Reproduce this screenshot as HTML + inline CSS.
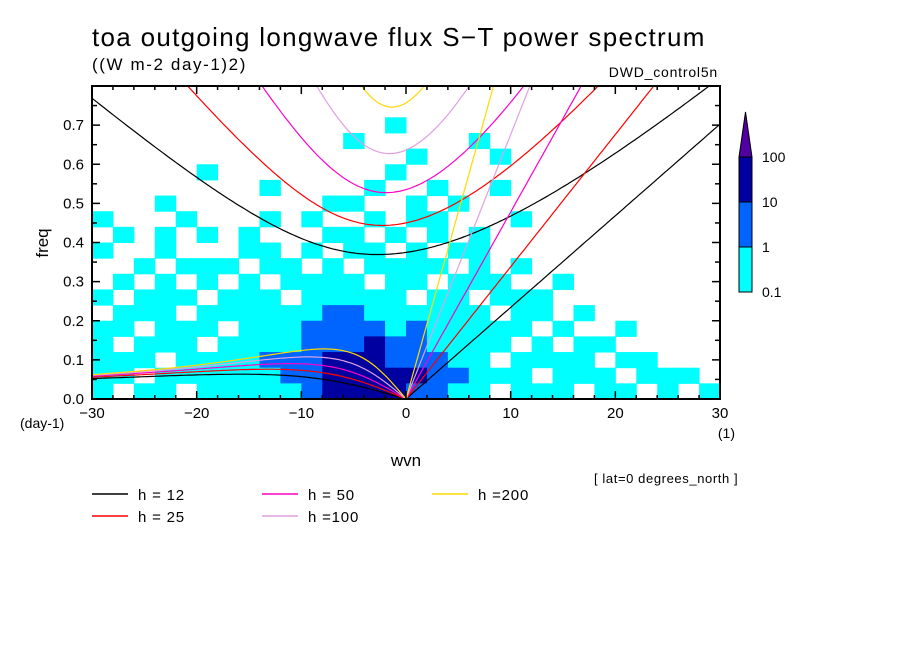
<!DOCTYPE html>
<html><head><meta charset="utf-8"><style>
html,body{margin:0;padding:0;background:#fff;}
svg{display:block;font-family:"Liberation Sans",sans-serif;}
</style></head><body>
<svg id="chart" width="904" height="654" viewBox="0 0 904 654" xmlns="http://www.w3.org/2000/svg">
<rect width="904" height="654" fill="#fff"/>
<text x="92" y="46" font-size="26" letter-spacing="1.3">toa outgoing longwave flux S−T power spectrum</text>
<text x="92" y="70" font-size="17" letter-spacing="1.6">((W m-2 day-1)2)</text>
<text x="718" y="77" font-size="14" text-anchor="end" letter-spacing="0.8">DWD_control5n</text>
<g id="cells"></g>
<g id="curves"></g>
<g id="axes"></g>
<text x="20" y="428" font-size="14">(day-1)</text>
<text x="735" y="438" font-size="14" text-anchor="end">(1)</text>
<text x="406" y="466" font-size="17" text-anchor="middle">wvn</text>
<text x="48" y="243" font-size="17" text-anchor="middle" transform="rotate(-90 48 243)">freq</text>
<text x="594" y="483" font-size="13" letter-spacing="0.6">[ lat=0 degrees_north ]</text>
<g id="colorbar"></g>
<g id="legend"></g>
</svg>
<script>
// ---- data ----
const wvnEdges = [-30, 30];
const freqMax = 0.8;
const levelColors = ["none", "#00FFFF", "#0064FF", "#0000A0", "#5000A0"];
const levelLabels = ["0.1", "1", "10", "100"];
const hValues = [12, 25, 50, 100, 200];
const hColors = ["#000000", "#FF0000", "#FF00C8", "#E0A0E0", "#FFD800"];
const hLabels = ["h = 12", "h = 25", "h = 50", "h =100", "h =200"];
const xTicks = [-30, -20, -10, 0, 10, 20, 30];
const yTicks = [0.0, 0.1, 0.2, 0.3, 0.4, 0.5, 0.6, 0.7];
// rows from top (0.76-0.80) to bottom (0.00-0.04); 30 columns of 2 wvn each
const fieldRows = [
"000000000000000000000000000000",
"000000000000000000000000000000",
"000000000000001000000000000000",
"000000000000100000100000000000",
"000000000000000100010000000000",
"000001000000001000000000000000",
"000000001000010010010000000000",
"000100000001100101000000000000",
"100010001010010110001000000000",
"010101010001101010100000000000",
"100100011010110101100000000000",
"001011101101011110101000000000",
"010101010111101101110010000000",
"101110111011111011011100000000",
"011101111112211111101101000000",
"110111011122221211111010010000",
"101110111122232211110101100000",
"111011112223332221101111011000",
"110111111223333322111011101110",
"101101111123333221101110110101"
];
// ---- scales ----
const X0 = 92, X1 = 720, Y0 = 399, Y1 = 86;
const sx = k => X0 + (k - wvnEdges[0]) / (wvnEdges[1] - wvnEdges[0]) * (X1 - X0);
const sy = f => Y0 - f / freqMax * (Y0 - Y1);
const NS = "http://www.w3.org/2000/svg";
function mk(tag, attrs, parent) { const e = document.createElementNS(NS, tag); for (const a in attrs) e.setAttribute(a, attrs[a]); parent.appendChild(e); return e; }

// ---- field ----
const cells = document.getElementById('cells');
const nR = fieldRows.length, nC = fieldRows[0].length;
const dk = (wvnEdges[1] - wvnEdges[0]) / nC, df = freqMax / nR;
fieldRows.forEach((row, r) => {
  for (let c = 0; c < nC; c++) {
    const lv = +row[c];
    if (!lv) continue;
    const k0 = wvnEdges[0] + c * dk, f1 = freqMax - r * df;
    const el = mk('rect', { x: sx(k0), y: sy(f1), width: sx(k0 + dk) - sx(k0) + 0.5, height: sy(f1 - df) - sy(f1) + 0.5, fill: levelColors[lv] }, cells);
    
    
  }
});

// ---- dispersion curves ----
const g = 9.81, beta = 2.28e-11, a = 6.371e6, toCpd = 86400 / (2 * Math.PI);
function cubicRoot(kk, c, w) {
  for (let i = 0; i < 60; i++) {
    const F = w * w * w - c * c * (kk * kk + 3 * beta / c) * w - beta * c * c * kk;
    const d = 3 * w * w - c * c * (kk * kk + 3 * beta / c);
    w -= F / d;
  }
  return w;
}
const curves = document.getElementById('curves');
const clip = mk('clipPath', { id: 'pc' }, curves);
mk('rect', { x: X0, y: Y1, width: X1 - X0, height: Y0 - Y1 }, clip);
curves.setAttribute('clip-path', 'url(#pc)');
hValues.forEach((h, i) => {
  const c = Math.sqrt(g * h);
  let ig = [], er = [], kel = [];
  for (let s = -30; s <= 30.001; s += 0.25) {
    const kk = s / a;
    const w0 = Math.sqrt(3 * beta * c + c * c * kk * kk) * 1.2;
    ig.push([s, cubicRoot(kk, c, w0) * toCpd]);
    if (s <= 0) {
      const wa = -beta * kk / (kk * kk + 3 * beta / c);
      er.push([s, (s === 0 ? 0 : cubicRoot(kk, c, wa)) * toCpd]);
    } else kel.push([s, c * kk * toCpd]);
  }
  kel.unshift([0, 0]);
  [[ig, 'ig'], [er, 'rossby'], [kel, 'kelvin']].forEach(([pts, nm]) => {
    const d = pts.map((p, j) => (j ? 'L' : 'M') + sx(p[0]).toFixed(1) + ' ' + sy(p[1]).toFixed(1)).join(' ');
    const el = mk('path', { d: d, fill: 'none', stroke: hColors[i], 'stroke-width': 1.2 }, curves);
    
    
  });
});

// ---- axes ----
const axes = document.getElementById('axes');
const fr = mk('rect', { x: X0, y: Y1, width: X1 - X0, height: Y0 - Y1, fill: 'none', stroke: '#000', 'stroke-width': 2 }, axes);


for (let k = -28; k < 30; k += 2) {
  const L = (k % 10 === 0) ? 8 : 4;
  mk('line', { x1: sx(k), y1: Y0, x2: sx(k), y2: Y0 - L, stroke: '#000', 'stroke-width': 1.5 }, axes);
  mk('line', { x1: sx(k), y1: Y1, x2: sx(k), y2: Y1 + L, stroke: '#000', 'stroke-width': 1.5 }, axes);
}
for (let j = 1; j < 16; j++) {
  const f = j * 0.05, L = (j % 2 === 0) ? 8 : 5;
  mk('line', { x1: X0, y1: sy(f), x2: X0 + L, y2: sy(f), stroke: '#000', 'stroke-width': 1.5 }, axes);
  mk('line', { x1: X1, y1: sy(f), x2: X1 - L, y2: sy(f), stroke: '#000', 'stroke-width': 1.5 }, axes);
}
xTicks.forEach(k => {
  const t = mk('text', { x: sx(k), y: Y0 + 19, 'font-size': 15, 'text-anchor': 'middle' }, axes);
  t.textContent = (k < 0 ? '−' : '') + Math.abs(k);
  
  
});
yTicks.forEach(f => {
  const t = mk('text', { x: X0 - 8, y: sy(f) + 5, 'font-size': 15, 'text-anchor': 'end' }, axes);
  t.textContent = f.toFixed(1);
  
  
});

// ---- colorbar ----
const cb = document.getElementById('colorbar');
const cbX = 739, cbW = 13, cbTop = 157, seg = 45;
for (let i = 0; i < 3; i++) {
  const el = mk('rect', { x: cbX, y: cbTop + (2 - i) * seg, width: cbW, height: seg, fill: levelColors[i + 1], stroke: '#000', 'stroke-width': 1 }, cb);
  
  
}
const tri = mk('polygon', { points: `${cbX},${cbTop} ${cbX + cbW},${cbTop} ${cbX + cbW / 2},112`, fill: levelColors[4], stroke: '#000', 'stroke-width': 1 }, cb);


levelLabels.forEach((lb, i) => {
  const t = mk('text', { x: 762, y: cbTop + (3 - i) * seg + 5, 'font-size': 14 }, cb);
  t.textContent = lb;
  
  
});

// ---- legend ----
const lg = document.getElementById('legend');
const lgPos = [[92, 494], [92, 516], [262, 494], [262, 516], [432, 494]];
hValues.forEach((h, i) => {
  const [x, y] = lgPos[i];
  const l = mk('line', { x1: x, y1: y, x2: x + 36, y2: y, stroke: hColors[i], 'stroke-width': 1.5 }, lg);
  
  
  const t = mk('text', { x: x + 46, y: y + 6, 'font-size': 15, 'letter-spacing': 0.8 }, lg);
  t.textContent = hLabels[i];
  
  
});
</script>
</body></html>
